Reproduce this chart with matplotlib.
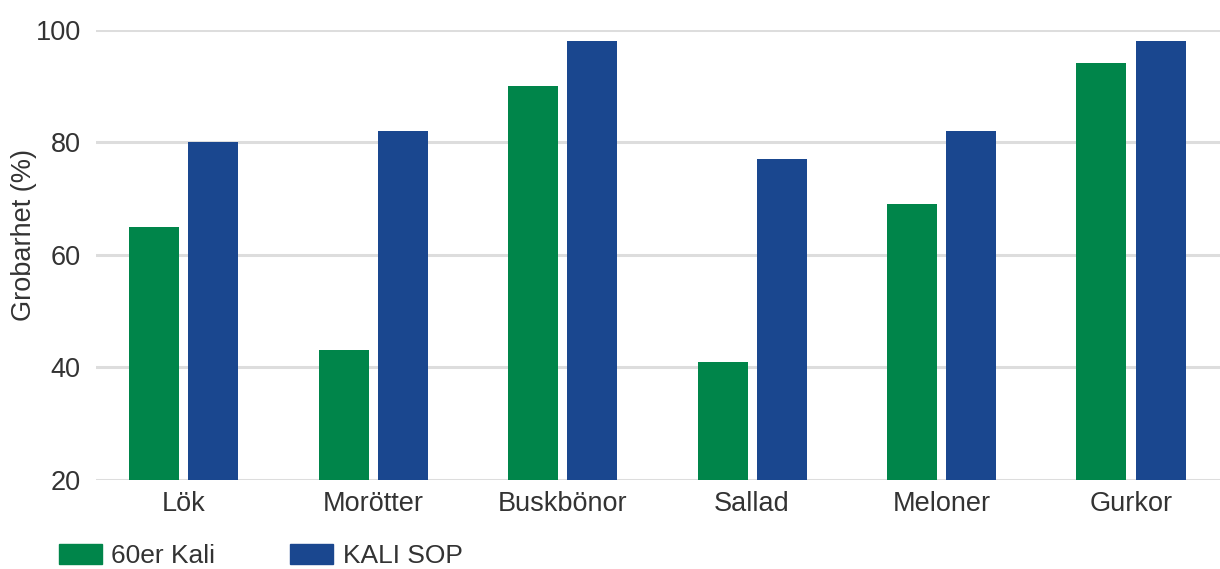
import matplotlib
matplotlib.use("Agg")
import matplotlib.pyplot as plt
from matplotlib.patches import Patch
import numpy as np

categories = ["Lök", "Morötter", "Buskbönor", "Sallad", "Meloner", "Gurkor"]
series_names = ["60er Kali", "KALI SOP"]
kali60 = [65, 43, 90, 41, 69, 94]
kalisop = [80, 82, 98, 77, 82, 98]
yticks = [20, 40, 60, 80, 100]

green = "#00854A"
blue = "#1A478F"
txt = "#333333"

plt.rcParams['font.family'] = ['Liberation Sans', 'DejaVu Sans']

fig = plt.figure(figsize=(12.2, 5.69), dpi=100)
ax = fig.add_axes([96/1220, 1-480/569, 1-96/1220, (480-29.5)/569])

x = np.arange(len(categories))
w = 0.264
off = 0.156
ax.bar(x - off, kali60, width=w, color=green, zorder=3, bottom=0)
ax.bar(x + off, kalisop, width=w, color=blue, zorder=3, bottom=0)

ax.set_ylim(20, 100)
ax.set_xlim(-0.463, 5.47)
ax.set_yticks(yticks)
ax.set_xticks(x)
ax.set_xticklabels(categories)
ax.yaxis.grid(True, color="#dddddd", linewidth=2.2, zorder=0)
ax.set_axisbelow(True)
for s in ax.spines.values():
    s.set_visible(False)
ax.tick_params(axis='both', length=0, labelsize=19.5, labelcolor=txt)
ax.tick_params(axis='y', pad=11)
ax.tick_params(axis='x', pad=8)
ax.set_ylabel("Grobarhet (%)", fontsize=19.5, color=txt)
ax.yaxis.set_label_coords(-0.0525, 0.544)

handles = [Patch(color=green, label=series_names[0]), Patch(color=blue, label=series_names[1])]
fig.legend(handles=handles, loc='lower left', bbox_to_anchor=(59/1220, 1/569),
           ncol=2, frameon=False, fontsize=19, handlelength=1.63, handleheight=0.78,
           handletextpad=0.35, columnspacing=2.85, borderpad=0, borderaxespad=0,
           labelcolor=txt)

fig.savefig("out.png", dpi=100)
